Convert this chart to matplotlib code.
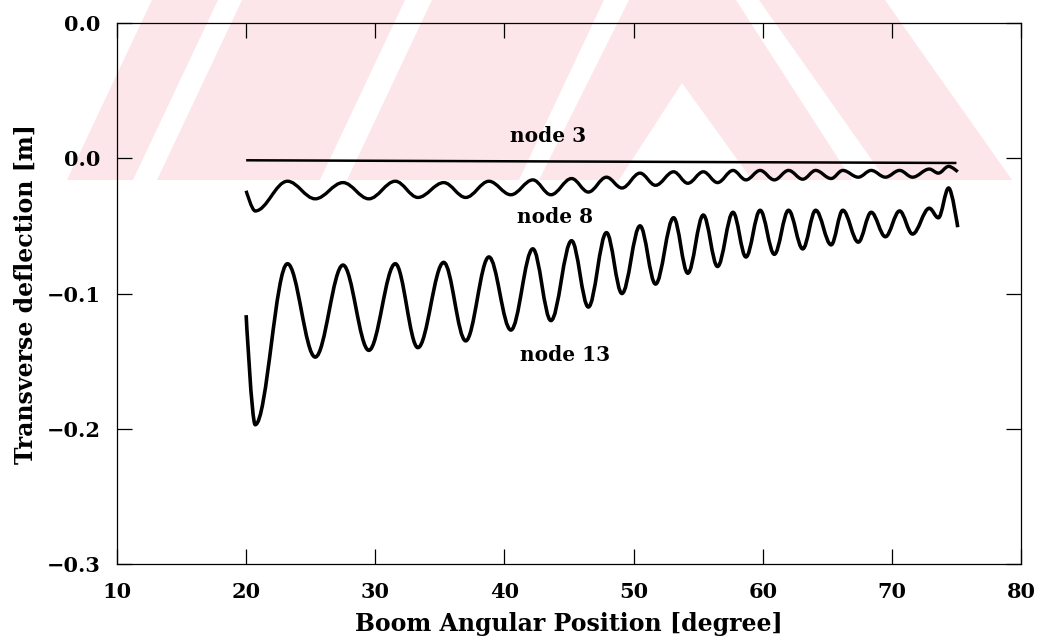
"""
Transverse deflection of boom nodes vs. boom angular position.
Curves are given by their read-off extrema; each wave is drawn as a
Bezier path with horizontal tangents at the extrema.
"""
import matplotlib
matplotlib.use("Agg")
import matplotlib.pyplot as plt
from matplotlib.path import Path
from matplotlib.patches import PathPatch, Polygon

# -----------------------------------------------------------------------------
# data  x: degree, y: metre
# -----------------------------------------------------------------------------
node3_x = [20.0, 75.0]
node3_y = [-0.0015, -0.0035]

# extrema positions, shared by node 8 and node 13 (same mode, same phase)
ext_x = [20.0, 20.7, 23.2, 25.35, 27.5, 29.5, 31.55, 33.3, 35.3, 37.0,
         38.8, 40.5, 42.2, 43.6, 45.2, 46.5, 47.9, 49.1, 50.5, 51.7,
         53.1, 54.2, 55.4, 56.5, 57.7, 58.7, 59.8, 60.9, 62.0, 63.1,
         64.1, 65.3, 66.2, 67.4, 68.4, 69.5, 70.6, 71.6, 72.9, 73.6,
         74.4, 75.1]

node8_y = [-0.024, -0.039, -0.017, -0.030, -0.018, -0.030, -0.017, -0.029,
           -0.018, -0.029, -0.017, -0.027, -0.016, -0.027, -0.015, -0.025,
           -0.014, -0.022, -0.011, -0.020, -0.010, -0.0185, -0.010, -0.018,
           -0.009, -0.016, -0.009, -0.016, -0.009, -0.0155, -0.009, -0.015,
           -0.009, -0.014, -0.009, -0.014, -0.009, -0.014, -0.008, -0.011,
           -0.006, -0.010]

node13_y = [-0.116, -0.197, -0.078, -0.147, -0.079, -0.142, -0.078, -0.140,
            -0.077, -0.135, -0.073, -0.127, -0.067, -0.120, -0.061, -0.110,
            -0.055, -0.100, -0.050, -0.093, -0.044, -0.085, -0.042, -0.080,
            -0.040, -0.073, -0.0385, -0.071, -0.0385, -0.067, -0.0385, -0.064,
            -0.0385, -0.062, -0.040, -0.058, -0.039, -0.056, -0.037, -0.044,
            -0.022, -0.051]

x_ticks = [10, 20, 30, 40, 50, 60, 70, 80]
y_ticks = [-0.3, -0.2, -0.1, 0.0, 0.1]
y_ticklabels = ["\u22120.3", "\u22120.2", "\u22120.1", "0.0", "0.0"]

labels = [("node 3", 43.4, 0.0119), ("node 8", 43.9, -0.048),
          ("node 13", 44.7, -0.150)]

W, H = 1039, 641
plt.rcParams["font.family"] = ["DejaVu Serif"]
plt.rcParams["font.weight"] = "bold"


def wave_path(xs, ys):
    """Cubic Bezier through the extrema, flat tangent at every inner point."""
    verts = [(xs[0], ys[0])]
    codes = [Path.MOVETO]
    n = len(xs)
    for i in range(1, n):
        x0, y0, x1, y1 = xs[i - 1], ys[i - 1], xs[i], ys[i]
        h = 0.36 * (x1 - x0)
        c1 = (x0 + h, y0) if i > 1 else (x0, y0)
        c2 = (x1 - h, y1) if i < n - 1 else (x1, y1)
        verts += [c1, c2, (x1, y1)]
        codes += [Path.CURVE4] * 3
    return Path(verts, codes)


def px(x, y):
    """pixel (y from top) -> figure fraction"""
    return (x / W, 1 - y / H)


fig = plt.figure(figsize=(W / 100, H / 100), dpi=100, facecolor="white")

# pink scan watermark behind the plot (band at the top of the page)
pink = "#fde6ea"
wm = [
    [(67, 180), (133, 180), (218, 0), (152, 0)],
    [(157, 180), (320, 180), (405, 0), (242, 0)],
    [(347, 180), (519, 180), (604, 0), (432, 0)],
    [(539, 180), (629, 0), (736, 0), (852, 180), (752, 180), (682, 83),
     (619, 180)],
    [(759, 0), (885, 0), (1012, 180), (886, 180)],
]
for poly in wm:
    fig.add_artist(Polygon([px(*p) for p in poly], closed=True,
                           facecolor=pink, edgecolor="none", zorder=0))

ax = fig.add_axes([117 / W, 1 - 564 / H, (1021 - 117) / W, (564 - 23) / H])
ax.patch.set_facecolor("none")

ax.plot(node3_x, node3_y, color="black", lw=1.8, solid_capstyle="butt")
for ys, lw in [(node8_y, 2.4), (node13_y, 2.6)]:
    ax.add_patch(PathPatch(wave_path(ext_x, ys), facecolor="none",
                           edgecolor="black", lw=lw, joinstyle="round",
                           capstyle="butt"))

for txt, x, y in labels:
    ax.text(x, y, txt, ha="center", va="baseline", fontsize=14.5,
            fontweight="bold")

ax.set_xlim(10, 80)
ax.set_ylim(-0.3, 0.1)
ax.set_xticks(x_ticks)
ax.set_yticks(y_ticks)
ax.set_yticklabels(y_ticklabels)
ax.tick_params(direction="in", length=11, width=0.9, top=True, right=True,
               labelsize=15)
ax.tick_params(axis="x", pad=13)
ax.tick_params(axis="y", pad=12)
for s in ax.spines.values():
    s.set_linewidth(0.9)

ax.set_xlabel("Boom Angular Position [degree]", fontsize=17,
              fontweight="bold")
ax.xaxis.set_label_coords(0.5, -0.088)
ax.set_ylabel("Transverse deflection [m]", fontsize=17, fontweight="bold")
ax.yaxis.set_label_coords(-0.088, 0.5)

fig.savefig("out.png", dpi=100)
